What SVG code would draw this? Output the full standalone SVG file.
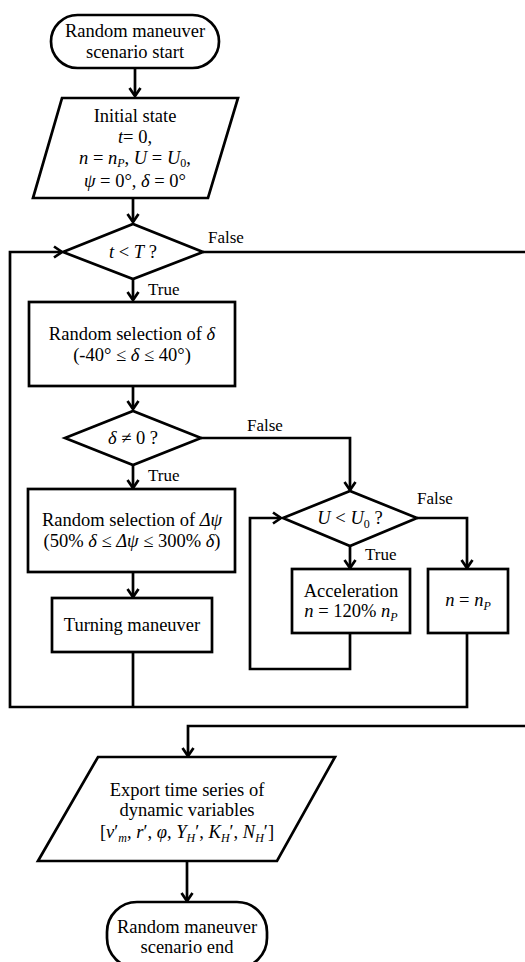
<svg xmlns="http://www.w3.org/2000/svg" width="525" height="962" viewBox="0 0 525 962">
<style>
.t{font-family:"Liberation Serif","Times New Roman",serif;font-size:18.5px;text-anchor:middle;fill:#000}
.i{font-style:italic}
.sb{font-size:12px}
.lbl{font-family:"Liberation Serif","Times New Roman",serif;font-size:17px;fill:#000}
.s{fill:#fff;stroke:#000;stroke-width:2.7}
.c{fill:none;stroke:#000;stroke-width:2.7}
</style>
<defs>
<marker id="arr" viewBox="0 0 14 14" refX="11" refY="7" markerWidth="14" markerHeight="14" markerUnits="userSpaceOnUse" orient="auto">
<path d="M3,1.5 L11,7 L3,12.5" fill="none" stroke="#000" stroke-width="2.7"/>
</marker>
</defs>
<rect width="525" height="962" fill="#fff"/>
<g id="connectors">
<path class="c" d="M135,68 V96" marker-end="url(#arr)"/>
<path class="c" d="M133,199 V222" marker-end="url(#arr)"/>
<path class="c" d="M133,279 V300" marker-end="url(#arr)"/>
<path class="c" d="M133,386 V409" marker-end="url(#arr)"/>
<path class="c" d="M133,465 V488" marker-end="url(#arr)"/>
<path class="c" d="M133,572 V597" marker-end="url(#arr)"/>
<path class="c" d="M201,438 H350 V490" marker-end="url(#arr)"/>
<path class="c" d="M417,518 H467 V568" marker-end="url(#arr)"/>
<path class="c" d="M350,546 V568" marker-end="url(#arr)"/>
<path class="c" d="M350,633 V669 H250 V518 H281" marker-end="url(#arr)"/>
<path class="c" d="M133,652 V707"/>
<path class="c" d="M467,633 V707 H10 V252 H62" marker-end="url(#arr)"/>
<path class="c" d="M203,252 H532 V726 H188 V756" marker-end="url(#arr)"/>
<path class="c" d="M187,861 V901" marker-end="url(#arr)"/>
<text class="lbl" x="208" y="243">False</text>
<text class="lbl" x="148" y="295">True</text>
<text class="lbl" x="247" y="431">False</text>
<text class="lbl" x="148" y="481">True</text>
<text class="lbl" x="417" y="504">False</text>
<text class="lbl" x="365" y="560">True</text>
</g>
<g id="start">
<rect class="s" x="51" y="15" width="168" height="53" rx="26.5"/>
<text class="t" x="135" y="37">Random maneuver</text>
<text class="t" x="135" y="58">scenario start</text>
</g>
<g id="init">
<polygon class="s" points="62,98 238,98 208,198 33,198"/>
<text class="t" x="135" y="122">Initial state</text>
<text class="t" x="135" y="143"><tspan class="i">t</tspan>= 0,</text>
<text class="t" x="135" y="164"><tspan class="i">n</tspan> = <tspan class="i">n</tspan><tspan class="i sb" baseline-shift="-3">P</tspan>, <tspan class="i">U</tspan> = <tspan class="i">U</tspan><tspan class="sb" baseline-shift="-3">0</tspan>,</text>
<text class="t" x="135" y="187"><tspan class="i">ψ</tspan> = 0°, <tspan class="i">δ</tspan> = 0°</text>
</g>
<g id="cond_t">
<polygon class="s" points="63,252 133,224 203,252 133,279"/>
<text class="t" x="133" y="258"><tspan class="i">t</tspan> &lt; <tspan class="i">T</tspan> ?</text>
</g>
<g id="sel_delta">
<rect class="s" x="29" y="302" width="206" height="84"/>
<text class="t" x="132" y="340">Random selection of <tspan class="i">δ</tspan></text>
<text class="t" x="132" y="361">(-40° ≤ <tspan class="i">δ</tspan> ≤ 40°)</text>
</g>
<g id="cond_delta">
<polygon class="s" points="65,438 133,411 201,438 133,465"/>
<text class="t" x="133" y="444"><tspan class="i">δ</tspan> ≠ 0 ?</text>
</g>
<g id="sel_psi">
<rect class="s" x="28" y="489" width="207" height="83"/>
<text class="t" x="132" y="526">Random selection of <tspan class="i">Δψ</tspan></text>
<text class="t" x="132" y="547">(50% <tspan class="i">δ</tspan> ≤ <tspan class="i">Δψ</tspan> ≤ 300% <tspan class="i">δ</tspan>)</text>
</g>
<g id="turning">
<rect class="s" x="52" y="598" width="160" height="54"/>
<text class="t" x="132" y="631">Turning maneuver</text>
</g>
<g id="cond_u">
<polygon class="s" points="283,518 350,491 417,518 350,546"/>
<text class="t" x="350" y="524"><tspan class="i">U</tspan> &lt; <tspan class="i">U</tspan><tspan class="sb" baseline-shift="-4">0</tspan> ?</text>
</g>
<g id="accel">
<rect class="s" x="292" y="569" width="118" height="64"/>
<text class="t" x="351" y="597">Acceleration</text>
<text class="t" x="351" y="617"><tspan class="i">n</tspan> = 120% <tspan class="i">n</tspan><tspan class="i sb" baseline-shift="-4">P</tspan></text>
</g>
<g id="n_np">
<rect class="s" x="428" y="569" width="80" height="64"/>
<text class="t" x="468" y="606"><tspan class="i">n</tspan> = <tspan class="i">n</tspan><tspan class="i sb" baseline-shift="-4">P</tspan></text>
</g>
<g id="export">
<polygon class="s" points="98,757 335,757 277,861 38,861"/>
<text class="t" x="187" y="796">Export time series of</text>
<text class="t" x="187" y="816">dynamic variables</text>
<text class="t" x="187" y="838">[<tspan class="i">v</tspan>′<tspan class="i sb" baseline-shift="-4">m</tspan>, <tspan class="i">r</tspan>′, <tspan class="i">φ</tspan>, <tspan class="i">Y</tspan><tspan class="i sb" baseline-shift="-4">H</tspan>′, <tspan class="i">K</tspan><tspan class="i sb" baseline-shift="-4">H</tspan>′, <tspan class="i">N</tspan><tspan class="i sb" baseline-shift="-4">H</tspan>′]</text>
</g>
<g id="end">
<rect class="s" x="107" y="902" width="160" height="66" rx="30"/>
<text class="t" x="187" y="933">Random maneuver</text>
<text class="t" x="187" y="953">scenario end</text>
</g>
</svg>
